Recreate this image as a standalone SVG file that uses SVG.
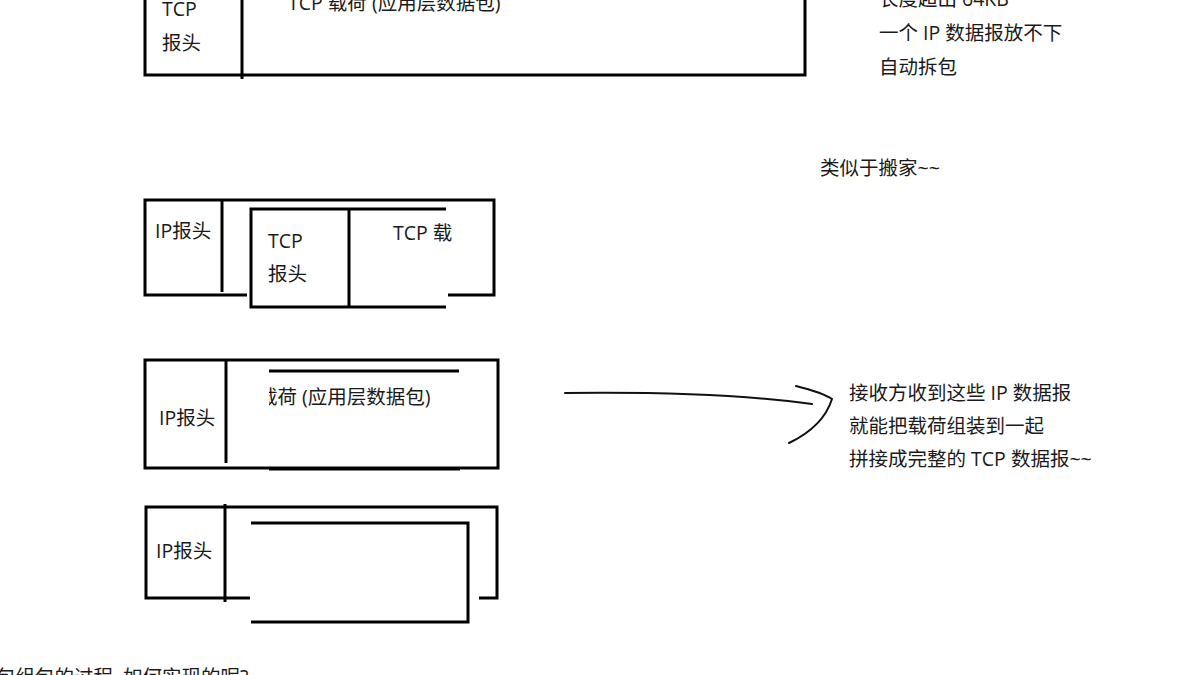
<svg xmlns="http://www.w3.org/2000/svg" width="1200" height="675" viewBox="0 0 1200 675">
<style>
.t{font-family:"Open Sans","Noto Sans CJK SC",sans-serif;font-size:19.5px;fill:#1a1a1a}
.ln{fill:none;stroke:#000;stroke-width:3;stroke-linecap:butt}
.ar{fill:none;stroke:#111;stroke-width:2;stroke-linecap:round}
</style>
<defs>
<clipPath id="cut3"><rect x="269" y="370" width="200" height="50"/></clipPath>
</defs>
<rect width="1200" height="675" fill="#fff"/>

<g id="tcp-packet">
<path class="ln" d="M145,-5 V75 H805 V-5"/>
<line class="ln" x1="242" y1="-5" x2="242" y2="79"/>
<text class="t" x="162" y="16">TCP</text>
<text class="t" x="162" y="50">报头</text>
<text class="t" x="288" y="10">TCP 载荷 (应用层数据包)</text>
</g>

<g id="note-split">
<text class="t" x="879" y="6">长度超出 64KB</text>
<text class="t" x="879" y="40">一个 IP 数据报放不下</text>
<text class="t" x="879" y="74">自动拆包</text>
</g>

<g id="note-move">
<text class="t" x="820" y="175">类似于搬家~~</text>
</g>

<g id="ip-datagram-1">
<path class="ln" d="M247,295 H145 V200 H494 V295 H448"/>
<line class="ln" x1="222" y1="200" x2="222" y2="292"/>
<path class="ln" d="M446,209 H251 V307 H446"/>
<line class="ln" x1="349" y1="209" x2="349" y2="308"/>
<text class="t" x="155" y="238">IP报头</text>
<text class="t" x="268" y="248">TCP</text>
<text class="t" x="268" y="281">报头</text>
<text class="t" x="393" y="240">TCP 载</text>
</g>

<g id="ip-datagram-2">
<rect class="ln" x="145" y="360" width="353" height="108"/>
<line class="ln" x1="226" y1="360" x2="226" y2="463"/>
<line class="ln" x1="269" y1="371" x2="459" y2="371"/>
<line class="ln" x1="269" y1="469" x2="460" y2="469"/>
<text class="t" x="159" y="425">IP报头</text>
<g clip-path="url(#cut3)">
<text class="t" x="258" y="404">载荷 (应用层数据包)</text>
</g>
</g>

<g id="ip-datagram-3">
<path class="ln" d="M250,598 H146 V507 H497 V598 H479"/>
<line class="ln" x1="225" y1="504" x2="225" y2="602"/>
<path class="ln" d="M251,523 H468 V622 H251"/>
<text class="t" x="156" y="558">IP报头</text>
</g>

<g id="connectors">
<path class="ar" d="M565,393 C650,392 740,394 812,404"/>
<path class="ar" d="M796,386 C812,390 826,395 832,399 C826,418 812,432 789,443"/>
</g>

<g id="note-assemble">
<text class="t" x="849" y="400">接收方收到这些 IP 数据报</text>
<text class="t" x="849" y="433">就能把载荷组装到一起</text>
<text class="t" x="849" y="466">拼接成完整的 TCP 数据报~~</text>
</g>

<g id="bottom-note">
<text class="t" x="-4" y="684">包组包的过程, 如何实现的呢?</text>
</g>
</svg>
